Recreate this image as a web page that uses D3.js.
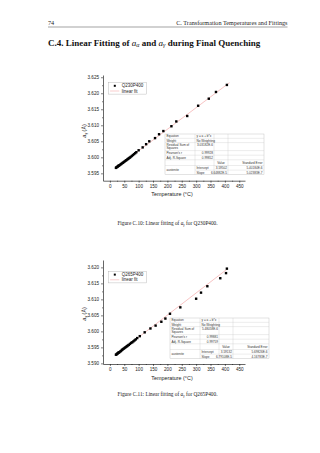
<!DOCTYPE html>
<html>
<head>
<meta charset="utf-8">
<script src="https://cdn.jsdelivr.net/npm/d3@7"></script>
<style>
body { margin: 0; background: #fff; }
svg { display: block; }
.serif { font-family: "Liberation Serif", "DejaVu Serif", serif; }
.sans { font-family: "Liberation Sans", Arial, sans-serif; }
.axis .domain { stroke: #000; stroke-width: 0.6; }
.axis .tick line { stroke: #000; stroke-width: 0.5; }
.axis text { font-family: "Liberation Sans", Arial, sans-serif; font-size: 4.6px; fill: #222; }
</style>
</head>
<body>
<div id="page"></div>
<script>
// ticks
var xTicks = [0, 50, 100, 150, 200, 250, 300, 350, 400, 450];
var xMinor = [25, 75, 125, 175, 225, 275, 325, 375, 425];
var yTicksQ230 = [3.595, 3.600, 3.605, 3.610, 3.615, 3.620, 3.625];
var yTicksQ265 = [3.590, 3.595, 3.600, 3.605, 3.610, 3.615, 3.620];

// Q230P400 data (temperature in C, lattice parameter in A)
var tempQ230 = [21, 23, 25, 27, 29, 31, 33, 36, 39, 42, 45, 48, 51, 54, 57, 60, 63, 66, 69, 72, 76, 80, 84, 88, 92,
                100, 114, 126, 137, 157, 171, 186, 214, 231, 269, 307, 344, 369, 407];
var latQ230 = [3.5967, 3.5969, 3.5970, 3.5971, 3.5973, 3.5974, 3.5975, 3.5977, 3.5979, 3.5981, 3.5983, 3.5985, 3.5987,
               3.5989, 3.5991, 3.5993, 3.5995, 3.5997, 3.5999, 3.6001, 3.6004, 3.6007, 3.6010, 3.6013, 3.6016,
               3.6022, 3.6031, 3.6041, 3.6050, 3.6060, 3.6072, 3.6082, 3.6097, 3.6112, 3.6129, 3.6161, 3.6183, 3.6204, 3.6226];
var fitTempQ230 = [21, 416];
var fitLatQ230 = [3.5967, 3.6233];

// Q265P400 data
var tempQ265 = [21, 23, 25, 27, 29, 31, 33, 36, 39, 42, 45, 48, 51, 54, 57, 60, 63, 66, 70, 74, 78, 82, 86, 90, 95,
                104, 121, 141, 159, 179, 193, 209, 245, 300, 317, 339, 384, 404, 407];
var latQ265 = [3.5927, 3.5928, 3.5930, 3.5931, 3.5933, 3.5934, 3.5935, 3.5937, 3.5939, 3.5942, 3.5944, 3.5946, 3.5948,
               3.5950, 3.5952, 3.5954, 3.5956, 3.5958, 3.5961, 3.5964, 3.5966, 3.5969, 3.5972, 3.5975, 3.5979,
               3.5985, 3.5997, 3.6009, 3.6018, 3.6030, 3.6040, 3.6055, 3.6075, 3.6102, 3.6121, 3.6141, 3.6166, 3.6182, 3.6196];
var fitTempQ265 = [21, 410];
var fitLatQ265 = [3.5927, 3.6196];

// fit tables
var statLabels = ["Equation", "Weight", "Residual Sum of|Squares", "Pearson's r", "Adj. R-Square"];
var paramLabels = ["Intercept", "Slope"];
var statQ230 = ["y = a + b*x", "No Weighting", "3.03182E-6", "0.99928", "0.99852"];
var valueQ230 = ["3.59502", "6.64882E-5"];
var errorQ230 = ["5.40184E-6", "5.02383E-7"];
var statQ265 = ["y = a + b*x", "No Weighting", "5.48058E-6", "0.99881", "0.99759"];
var valueQ265 = ["3.59132", "6.79108E-5"];
var errorQ265 = ["5.69826E-6", "4.16783E-7"];

var svg = d3.select("#page").append("svg").attr("width", 320).attr("height", 453);

// page header
svg.append("text").attr("class", "serif").attr("x", 48).attr("y", 25)
    .style("font-size", "6.2px").attr("fill", "#222").text("74");
svg.append("text").attr("class", "serif").attr("x", 287.5).attr("y", 25)
    .attr("text-anchor", "end").style("font-size", "6.2px").attr("fill", "#222")
    .text("C. Transformation Temperatures and Fittings");
svg.append("line").attr("x1", 48).attr("x2", 287.5).attr("y1", 27).attr("y2", 27)
    .attr("stroke", "#444").attr("stroke-width", 0.5);

var title = svg.append("text").attr("class", "serif").attr("x", 48).attr("y", 45.5)
    .style("font-size", "9px").style("font-weight", "bold").attr("fill", "#111");
title.append("tspan").text("C.4. Linear Fitting of ");
title.append("tspan").style("font-style", "italic").style("font-weight", "normal").text("a");
title.append("tspan").attr("dy", 1.8).style("font-size", "6px").style("font-style", "italic").style("font-weight", "normal").text("α");
title.append("tspan").attr("dy", -1.8).text(" and ");
title.append("tspan").style("font-style", "italic").style("font-weight", "normal").text("a");
title.append("tspan").attr("dy", 1.8).style("font-size", "6px").style("font-style", "italic").style("font-weight", "normal").text("γ");
title.append("tspan").attr("dy", -1.8).text(" during Final Quenching");

function drawTable(g, x0, y0, stats, values, errors) {
    var rowH = [4.3, 4.3, 8, 4.6, 4.6, 5.7, 4.6, 4.6];
    var cols = [0, 30, 49, 63, 99];
    var ys = [0];
    rowH.forEach(function (h) { ys.push(ys[ys.length - 1] + h); });
    var t = g.append("g").attr("transform", "translate(" + x0 + "," + y0 + ")");
    t.append("rect").attr("width", cols[4]).attr("height", ys[ys.length - 1])
        .attr("fill", "#fff").attr("stroke", "#b8b8b8").attr("stroke-width", 0.4);
    for (var i = 1; i < ys.length - 1; i++) {
        t.append("line").attr("x1", i == 7 ? cols[1] : 0).attr("x2", cols[4])
            .attr("y1", ys[i]).attr("y2", ys[i]).attr("stroke", "#c8c8c8").attr("stroke-width", 0.35);
    }
    [1, 2, 3].forEach(function (c) {
        t.append("line").attr("x1", cols[c]).attr("x2", cols[c]).attr("y1", 0).attr("y2", ys[ys.length - 1])
            .attr("stroke", "#c8c8c8").attr("stroke-width", 0.35);
    });
    function txt(x, y, s, anchor) {
        t.append("text").attr("class", "sans").attr("x", x).attr("y", y)
            .attr("text-anchor", anchor || "start").style("font-size", "3.1px").attr("fill", "#333").text(s);
    }
    stats.forEach(function (v, i) {
        var parts = statLabels[i].split("|");
        var base = ys[i] + (parts.length > 1 ? 3.1 : rowH[i] / 2 + 1.1);
        parts.forEach(function (p, k) { txt(1.5, base + k * 3.6, p); });
        if (isNaN(+v)) txt(cols[1] + 1.5, base, v);
        else txt(cols[2] - 1, base, v, "end");
    });
    txt((cols[2] + cols[3]) / 2, ys[5] + 4.2, "Value", "middle");
    txt(cols[4] - 1.5, ys[5] + 4.2, "Standard Error", "end");
    txt(1.5, ys[6] + 5.7, "austenite");
    paramLabels.forEach(function (p, i) {
        var base = ys[6 + i] + rowH[6 + i] / 2 + 1.1;
        txt(cols[1] + 1.5, base, p);
        txt(cols[3] - 1, base, values[i], "end");
        txt(cols[4] - 1.5, base, errors[i], "end");
    });
}

function drawChart(o) {
    var g = svg.append("g");
    var x = d3.scaleLinear().domain([-24, 470]).range([103, 245]);
    var y = d3.scaleLinear().domain(o.yDomain).range([o.bottom, o.top]);

    g.append("g").attr("class", "axis").attr("transform", "translate(0," + o.bottom + ")")
        .call(d3.axisBottom(x).tickValues(xTicks).tickSize(2).tickPadding(2).tickSizeOuter(0));
    g.append("g").attr("class", "axis").attr("transform", "translate(0," + o.bottom + ")")
        .call(d3.axisBottom(x).tickValues(xMinor).tickSize(1).tickFormat("").tickSizeOuter(0))
        .select(".domain").remove();
    g.append("g").attr("class", "axis").attr("transform", "translate(103,0)")
        .call(d3.axisLeft(y).tickValues(o.yTicks).tickSize(2).tickPadding(2).tickSizeOuter(0).tickFormat(d3.format(".3f")));
    var yMinor = o.yTicks.map(function (d) { return d + 0.0025; }).filter(function (d) { return d < o.yDomain[1]; });
    g.append("g").attr("class", "axis").attr("transform", "translate(103,0)")
        .call(d3.axisLeft(y).tickValues(yMinor).tickSize(1).tickFormat("").tickSizeOuter(0))
        .select(".domain").remove();

    g.append("text").attr("class", "sans").attr("x", 172).attr("y", o.bottom + 15.5)
        .attr("text-anchor", "middle").style("font-size", "5.4px").attr("fill", "#222").text("Temperature (°C)");
    var yl = g.append("text").attr("class", "sans")
        .attr("transform", "translate(85.8," + o.ylabelY + ") rotate(-90)")
        .attr("text-anchor", "middle").style("font-size", "5.4px").attr("fill", "#222");
    yl.append("tspan").style("font-style", "italic").text("a");
    yl.append("tspan").attr("dy", 1.3).style("font-size", "3.8px").text("γ");
    yl.append("tspan").attr("dy", -1.3).text(" (Å)");

    drawTable(g, o.tableX, o.tableY, o.stats, o.values, o.errors);

    var line = d3.line().x(function (d) { return x(d[0]); }).y(function (d) { return y(d[1]); });
    g.append("path").datum(d3.zip(o.fitT, o.fitA)).attr("d", line)
        .attr("fill", "none").attr("stroke", "#f19a9a").attr("stroke-width", 0.6);

    g.selectAll("rect.pt").data(d3.zip(o.temp, o.lat)).enter().append("rect").attr("class", "pt")
        .attr("x", function (d) { return x(d[0]) - 1.2; })
        .attr("y", function (d) { return y(d[1]) - 1.2; })
        .attr("width", 2.4).attr("height", 2.4).attr("fill", "#000");

    // legend
    var lg = g.append("g").attr("transform", "translate(108.3," + o.legendY + ")");
    lg.append("rect").attr("width", 38).attr("height", 11.6).attr("fill", "#fff")
        .attr("stroke", "#aaa").attr("stroke-width", 0.4);
    lg.append("rect").attr("x", 5.5).attr("y", 2.3).attr("width", 2).attr("height", 2).attr("fill", "#000");
    lg.append("line").attr("x1", 1.8).attr("x2", 11).attr("y1", 8.5).attr("y2", 8.5)
        .attr("stroke", "#f19a9a").attr("stroke-width", 0.5);
    lg.append("text").attr("class", "sans").attr("x", 13.4).attr("y", 4.9)
        .style("font-size", "4.5px").attr("fill", "#222").text(o.name);
    lg.append("text").attr("class", "sans").attr("x", 13.4).attr("y", 10.2)
        .style("font-size", "4.5px").attr("fill", "#222").text("linear fit");

    var cap = g.append("text").attr("class", "serif").attr("x", 167.5).attr("y", o.captionY)
        .attr("text-anchor", "middle").style("font-size", "5.3px").attr("fill", "#222");
    cap.append("tspan").text(o.figure + ": Linear fitting of ");
    cap.append("tspan").style("font-style", "italic").text("a");
    cap.append("tspan").attr("dy", 1).style("font-size", "3.7px").style("font-style", "italic").text("γ");
    cap.append("tspan").attr("dy", -1).text(" for " + o.name + ".");
}

drawChart({
    name: "Q230P400", figure: "Figure C.10",
    yDomain: [3.5927, 3.6257], yTicks: yTicksQ230, top: 75, bottom: 180.7,
    temp: tempQ230, lat: latQ230, fitT: fitTempQ230, fitA: fitLatQ230,
    stats: statQ230, values: valueQ230, errors: errorQ230,
    tableX: 165, tableY: 134, legendY: 82.5, ylabelY: 131, captionY: 224.5
});
drawChart({
    name: "Q265P400", figure: "Figure C.11",
    yDomain: [3.5898, 3.6223], yTicks: yTicksQ265, top: 260, bottom: 364,
    temp: tempQ265, lat: latQ265, fitT: fitTempQ265, fitA: fitLatQ265,
    stats: statQ265, values: valueQ265, errors: errorQ265,
    tableX: 170, tableY: 318, legendY: 271.3, ylabelY: 314, captionY: 396
});
</script>
</body>
</html>
